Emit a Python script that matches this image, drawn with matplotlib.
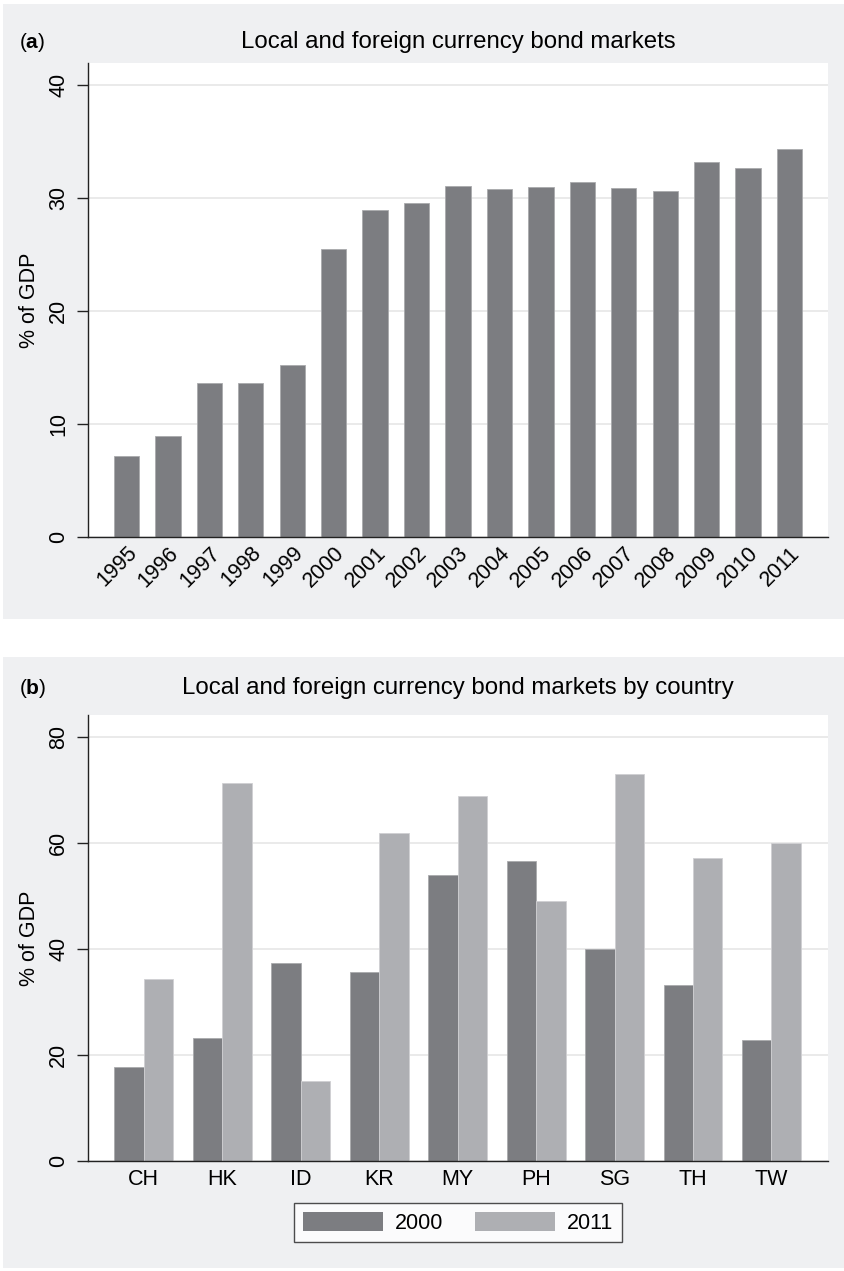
import matplotlib.pyplot as plt
from matplotlib.patches import Rectangle
import numpy as np

plt.rcParams['font.family'] = ['Liberation Sans', 'DejaVu Sans']
plt.rcParams['mathtext.fontset'] = 'custom'
plt.rcParams['mathtext.rm'] = 'Liberation Sans'
plt.rcParams['mathtext.bf'] = 'Liberation Sans:bold'

# Panel (a): total bond markets, % of GDP
years = ['1995', '1996', '1997', '1998', '1999', '2000', '2001', '2002', '2003',
         '2004', '2005', '2006', '2007', '2008', '2009', '2010', '2011']
total = [7.2, 8.9, 13.6, 13.6, 15.2, 25.5, 28.9, 29.6, 31.1,
         30.8, 31.0, 31.4, 30.9, 30.6, 33.2, 32.7, 34.3]

# Panel (b): by country
countries = ['CH', 'HK', 'ID', 'KR', 'MY', 'PH', 'SG', 'TH', 'TW']
val_2000 = [17.8, 23.3, 37.3, 35.7, 54.0, 56.7, 40.1, 33.3, 22.9]
val_2011 = [34.3, 71.3, 15.1, 62.0, 68.9, 49.0, 73.0, 57.2, 60.1]

W, H = 845, 1271
BG = '#eff0f2'
DARK = '#7c7d81'
LIGHT = '#aeafb3'
FS = 15.5
TFS = 17.3

fig = plt.figure(figsize=(W / 100, H / 100), dpi=100)


# gray panel backgrounds (pixel coords from top)
def px_rect(x0, y0, x1, y1):
    return Rectangle((x0 / W, 1 - y1 / H), (x1 - x0) / W, (y1 - y0) / H,
                     transform=fig.transFigure, facecolor=BG, edgecolor='none', zorder=-5)


fig.patches.append(px_rect(3, 4, 845, 619))
fig.patches.append(px_rect(3, 657, 845, 1268))


def make_axes(top, bottom):
    ax = fig.add_axes([88 / W, 1 - bottom / H, (828 - 88) / W, (bottom - top) / H])
    ax.set_zorder(2)
    ax.set_facecolor('white')
    for s in ['top', 'right']:
        ax.spines[s].set_visible(False)
    for s in ['left', 'bottom']:
        ax.spines[s].set_linewidth(1.0)
        ax.spines[s].set_color('#222222')
    ax.yaxis.grid(True, color='#e6e6e6', linewidth=1.2)
    ax.set_axisbelow(True)
    ax.tick_params(axis='y', length=8, width=1, color='#222222', labelsize=FS, pad=5.5)
    ax.tick_params(axis='x', length=0, labelsize=FS, pad=6)
    ax.set_ylabel('% of GDP', fontsize=FS, labelpad=6)
    return ax


# ---- panel (a)
ax1 = make_axes(63, 537)
x1 = np.arange(len(years))
ax1.bar(x1, total, width=0.61, color=DARK, edgecolor='#a9aaad', linewidth=0.6)
ax1.set_xlim(-0.93, len(years) - 1 + 0.93)
ax1.set_ylim(0, 41.95)
ax1.set_yticks([0, 10, 20, 30, 40])
ax1.set_yticklabels(['0', '10', '20', '30', '40'], rotation=90, va='center')
ax1.set_xticks(x1)
ax1.set_xticklabels(years, rotation=45, ha='right', rotation_mode='anchor')
ax1.tick_params(axis='x', pad=4)

# ---- panel (b)
ax2 = make_axes(715, 1161)
x2 = np.arange(len(countries))
bw = 0.375
ax2.bar(x2 - bw / 2, val_2000, width=bw, color=DARK, edgecolor='#a9aaad', linewidth=0.6, label='2000')
ax2.bar(x2 + bw / 2, val_2011, width=bw, color=LIGHT, edgecolor='#d0d0d3', linewidth=0.6, label='2011')
ax2.set_xlim(-0.71, len(countries) - 1 + 0.72)
ax2.set_ylim(0, 84.2)
ax2.set_yticks([0, 20, 40, 60, 80])
ax2.set_yticklabels(['0', '20', '40', '60', '80'], rotation=90, va='center')
ax2.set_xticks(x2)
ax2.set_xticklabels(countries)

handles = [Rectangle((0, 0), 1, 1, facecolor=DARK, edgecolor='none'),
           Rectangle((0, 0), 1, 1, facecolor=LIGHT, edgecolor='none')]
leg = ax2.legend(handles, ['2000', '2011'], loc='upper center', bbox_to_anchor=(0.5, -0.094),
                 ncol=2, fontsize=FS, frameon=True, fancybox=False, borderaxespad=0,
                 handlelength=3.7, handleheight=1.0, handletextpad=0.55, columnspacing=1.5,
                 borderpad=0.4)
leg.get_frame().set_edgecolor('#222222')
leg.get_frame().set_linewidth(1.0)

# titles
cx = (88 + 828) / 2 / W
fig.text(cx, 1 - 42 / H, 'Local and foreign currency bond markets', ha='center', va='center', fontsize=TFS)
fig.text(19 / W, 1 - 43 / H, r'($\mathbf{a}$)', ha='left', va='center', fontsize=15)
fig.text(cx, 1 - 688 / H, 'Local and foreign currency bond markets by country', ha='center', va='center', fontsize=TFS)
fig.text(19 / W, 1 - 688 / H, r'($\mathbf{b}$)', ha='left', va='center', fontsize=15)

fig.savefig('out.png', dpi=100, facecolor='white')
